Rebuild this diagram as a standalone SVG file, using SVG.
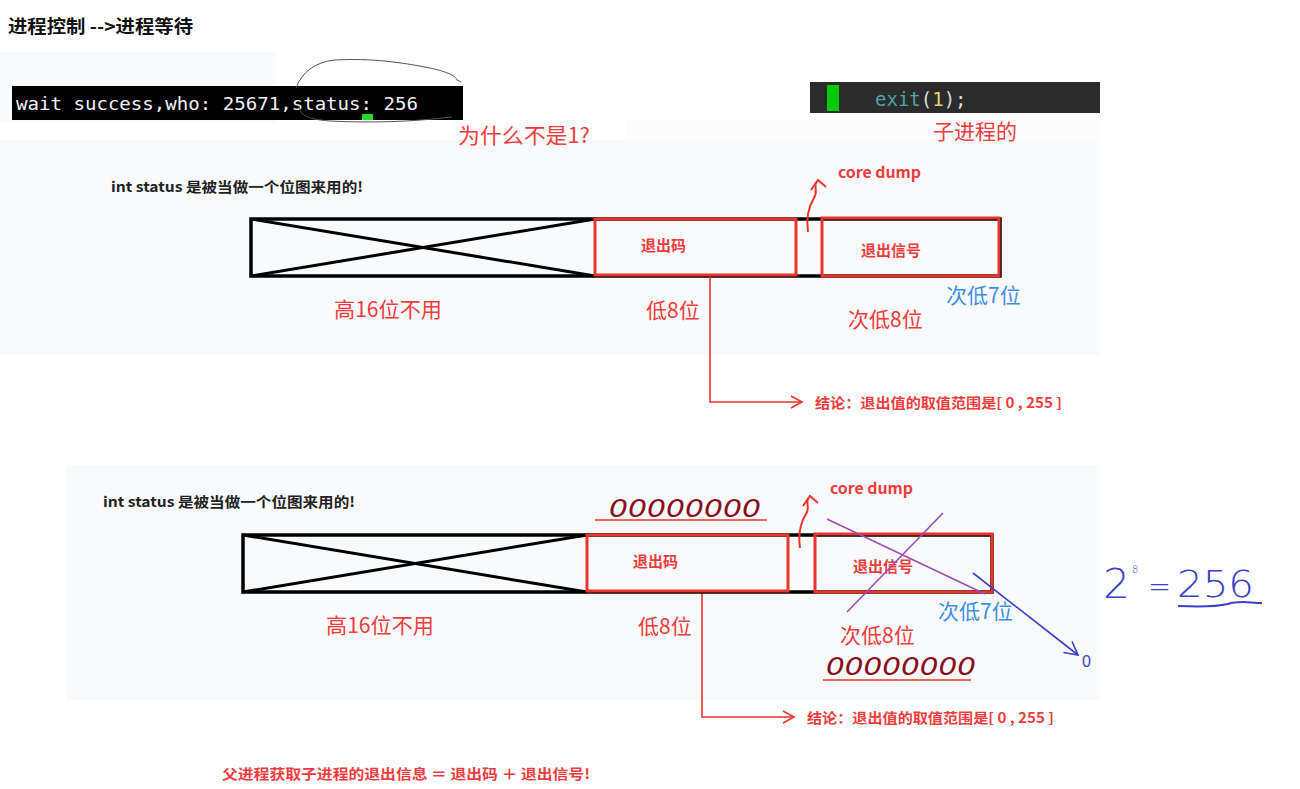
<svg xmlns="http://www.w3.org/2000/svg" width="1300" height="789" viewBox="0 0 1300 789">
<defs>
<style>
.cjk{font-family:"Noto Sans CJK SC","Noto Sans",sans-serif}
.b{font-weight:bold}
.red{fill:#f03c3c}
.blue{fill:#3d8fe8}
.outer{fill:none;stroke:#000;stroke-width:3.5}
.xl{stroke:#000;stroke-width:3}
.rbox{fill:none;stroke:#e8342c;stroke-width:3}
.arr{fill:none;stroke:#e8342c;stroke-width:1.6}
.hw{font-family:"DejaVu Sans",sans-serif;fill:#8a0f1e;font-size:24px;font-style:italic}
</style>
<marker id="open" markerWidth="14" markerHeight="14" refX="12" refY="7" orient="auto" markerUnits="userSpaceOnUse">
<path d="M1,1 L12,7 L1,13" fill="none" stroke="#e8342c" stroke-width="1.6"/>
</marker>
<marker id="openb" markerWidth="16" markerHeight="16" refX="14" refY="8" orient="auto" markerUnits="userSpaceOnUse">
<path d="M1,1 L14,8 L1,15" fill="none" stroke="#3d3fc8" stroke-width="1.6"/>
</marker>
</defs>
<rect width="1300" height="789" fill="#fff"/>

<!-- title -->
<text x="8" y="33" class="cjk b" font-size="18" fill="#111" textLength="185" lengthAdjust="spacingAndGlyphs">进程控制 --&gt;进程等待</text>

<!-- panels -->
<rect x="0" y="52" width="276" height="70" fill="#f9fafb"/>
<rect x="0" y="140" width="1100" height="215" fill="#f9fafb"/>
<rect x="626" y="120" width="474" height="20" fill="#fcfcfd"/>
<rect x="66" y="465" width="1034" height="235" fill="#f9fafb"/>

<!-- terminal -->
<g id="terminal">
<rect x="12" y="86" width="451" height="34" fill="#000"/>
<text x="16" y="110" font-family="DejaVu Sans Mono,monospace" font-size="18.5" fill="#f2f2f2" textLength="402" lengthAdjust="spacingAndGlyphs">wait success,who: 25671,status: 256</text>
<rect x="362" y="114" width="11" height="6" fill="#22dd22"/>
<path d="M296,88 C302,72 315,62 335,60 C370,58 400,62 430,68 C448,72 456,76 457,80 L461,82 M299,106 C300,114 304,119 330,121 C370,123 410,122 452,117" fill="none" stroke="#555" stroke-width="1"/>
</g>
<text x="458" y="143" class="cjk red" font-size="21" textLength="132" lengthAdjust="spacingAndGlyphs">为什么不是1?</text>

<!-- code -->
<g id="code">
<rect x="810" y="82" width="290" height="31" fill="#2b2b2b"/>
<rect x="827" y="85" width="12" height="26" fill="#0c0"/>
<text x="875" y="106" font-family="DejaVu Sans Mono,monospace" font-size="19"><tspan fill="#4fa3a6">exit</tspan><tspan fill="#ddd">(</tspan><tspan fill="#e4d46b">1</tspan><tspan fill="#ddd">);</tspan></text>
</g>
<text x="933" y="139" class="cjk red" font-size="21">子进程的</text>

<!-- diagram 1 -->
<g id="bar1">
<text x="111" y="192" class="cjk b" font-size="14" fill="#222" textLength="252" lengthAdjust="spacingAndGlyphs">int status 是被当做一个位图来用的!</text>
<rect x="251" y="219" width="749" height="57" class="outer"/>
<line x1="251" y1="219" x2="595" y2="276" class="xl"/>
<line x1="251" y1="276" x2="595" y2="219" class="xl"/>
<rect x="595" y="219" width="201" height="56" class="rbox"/>
<rect x="822" y="218" width="177" height="58" class="rbox"/>
<text x="641" y="251" class="cjk b red" font-size="15">退出码</text>
<text x="861" y="256" class="cjk b red" font-size="15">退出信号</text>
<path d="M808,232 C806,218 809,206 814,198 C818,192 814,188 816,182" fill="none" stroke="#e8342c" stroke-width="2"/>
<path d="M811,190 L818,180 L826,187" fill="none" stroke="#e8342c" stroke-width="2"/>
<text x="838" y="178" class="cjk b red" font-size="15" textLength="83" lengthAdjust="spacingAndGlyphs">core dump</text>
<text x="334" y="317" class="cjk red" font-size="21" textLength="108" lengthAdjust="spacingAndGlyphs">高16位不用</text>
<text x="646" y="318" class="cjk red" font-size="21">低8位</text>
<text x="848" y="327" class="cjk red" font-size="21">次低8位</text>
<text x="946" y="303" class="cjk blue" font-size="21">次低7位</text>
</g>
<g id="connectors">
<polyline points="710,277 710,402 802,402" class="arr" marker-end="url(#open)"/>
<polyline points="702,593 702,717 794,717" class="arr" marker-end="url(#open)"/>
</g>
<text x="815" y="408" class="cjk b red" font-size="14" textLength="247" lengthAdjust="spacingAndGlyphs">结论：退出值的取值范围是[ 0 , 255 ]</text>

<!-- diagram 2 -->
<g id="bar2">
<text x="103" y="507" class="cjk b" font-size="14" fill="#222" textLength="252" lengthAdjust="spacingAndGlyphs">int status 是被当做一个位图来用的!</text>
<rect x="243" y="535" width="749" height="57" class="outer"/>
<line x1="243" y1="535" x2="587" y2="592" class="xl"/>
<line x1="243" y1="592" x2="587" y2="535" class="xl"/>
<rect x="587" y="535" width="201" height="56" class="rbox"/>
<rect x="815" y="534" width="177" height="58" class="rbox"/>
<text x="633" y="567" class="cjk b red" font-size="15">退出码</text>
<text x="853" y="572" class="cjk b red" font-size="15">退出信号</text>
<path d="M800,548 C798,534 801,522 806,514 C810,508 806,504 808,498" fill="none" stroke="#e8342c" stroke-width="2"/>
<path d="M803,506 L810,496 L818,503" fill="none" stroke="#e8342c" stroke-width="2"/>
<text x="830" y="494" class="cjk b red" font-size="15" textLength="83" lengthAdjust="spacingAndGlyphs">core dump</text>
<text x="326" y="633" class="cjk red" font-size="21" textLength="108" lengthAdjust="spacingAndGlyphs">高16位不用</text>
<text x="638" y="634" class="cjk red" font-size="21">低8位</text>
<text x="840" y="643" class="cjk red" font-size="21">次低8位</text>
<text x="938" y="619" class="cjk blue" font-size="21">次低7位</text>
<text x="609" y="517" class="hw" textLength="152" lengthAdjust="spacingAndGlyphs">00000000</text>
<line x1="595" y1="520" x2="767" y2="520" stroke="#e8342c" stroke-width="1.6"/>
<text x="826" y="675" class="hw" textLength="150" lengthAdjust="spacingAndGlyphs">00000000</text>
<line x1="823" y1="680" x2="971" y2="680" stroke="#e8342c" stroke-width="1.6"/>
<line x1="827" y1="519" x2="985" y2="594" stroke="#9a4fb8" stroke-width="1.6"/>
<line x1="943" y1="513" x2="847" y2="612" stroke="#9a4fb8" stroke-width="1.6"/>
<line x1="973" y1="573" x2="1078" y2="655" stroke="#3d3fc8" stroke-width="1.6" marker-end="url(#openb)"/>
<text x="1082" y="667" font-family="Liberation Sans,sans-serif" font-size="16" fill="#3d3fc8">0</text>
</g>
<text x="807" y="723" class="cjk b red" font-size="14" textLength="247" lengthAdjust="spacingAndGlyphs">结论：退出值的取值范围是[ 0 , 255 ]</text>

<!-- 2^8 = 256 -->
<g id="formula" fill="#3d3fc8" font-family="DejaVu Sans,sans-serif" font-weight="200">
<text x="1103" y="598" font-size="40" textLength="27" lengthAdjust="spacingAndGlyphs">2</text>
<text x="1132" y="573" font-size="10">8</text>
<text x="1148" y="598" font-size="34" textLength="23" lengthAdjust="spacingAndGlyphs">=</text>
<text x="1177" y="597" font-size="38" textLength="77" lengthAdjust="spacingAndGlyphs">256</text>
<path d="M1178,606 C1200,607 1215,607 1228,604 C1240,600 1250,603 1262,603" fill="none" stroke="#3d3fc8" stroke-width="2"/>
</g>

<text x="222" y="779" class="cjk b red" font-size="14" textLength="368" lengthAdjust="spacingAndGlyphs">父进程获取子进程的退出信息 ＝ 退出码 ＋ 退出信号!</text>
</svg>
